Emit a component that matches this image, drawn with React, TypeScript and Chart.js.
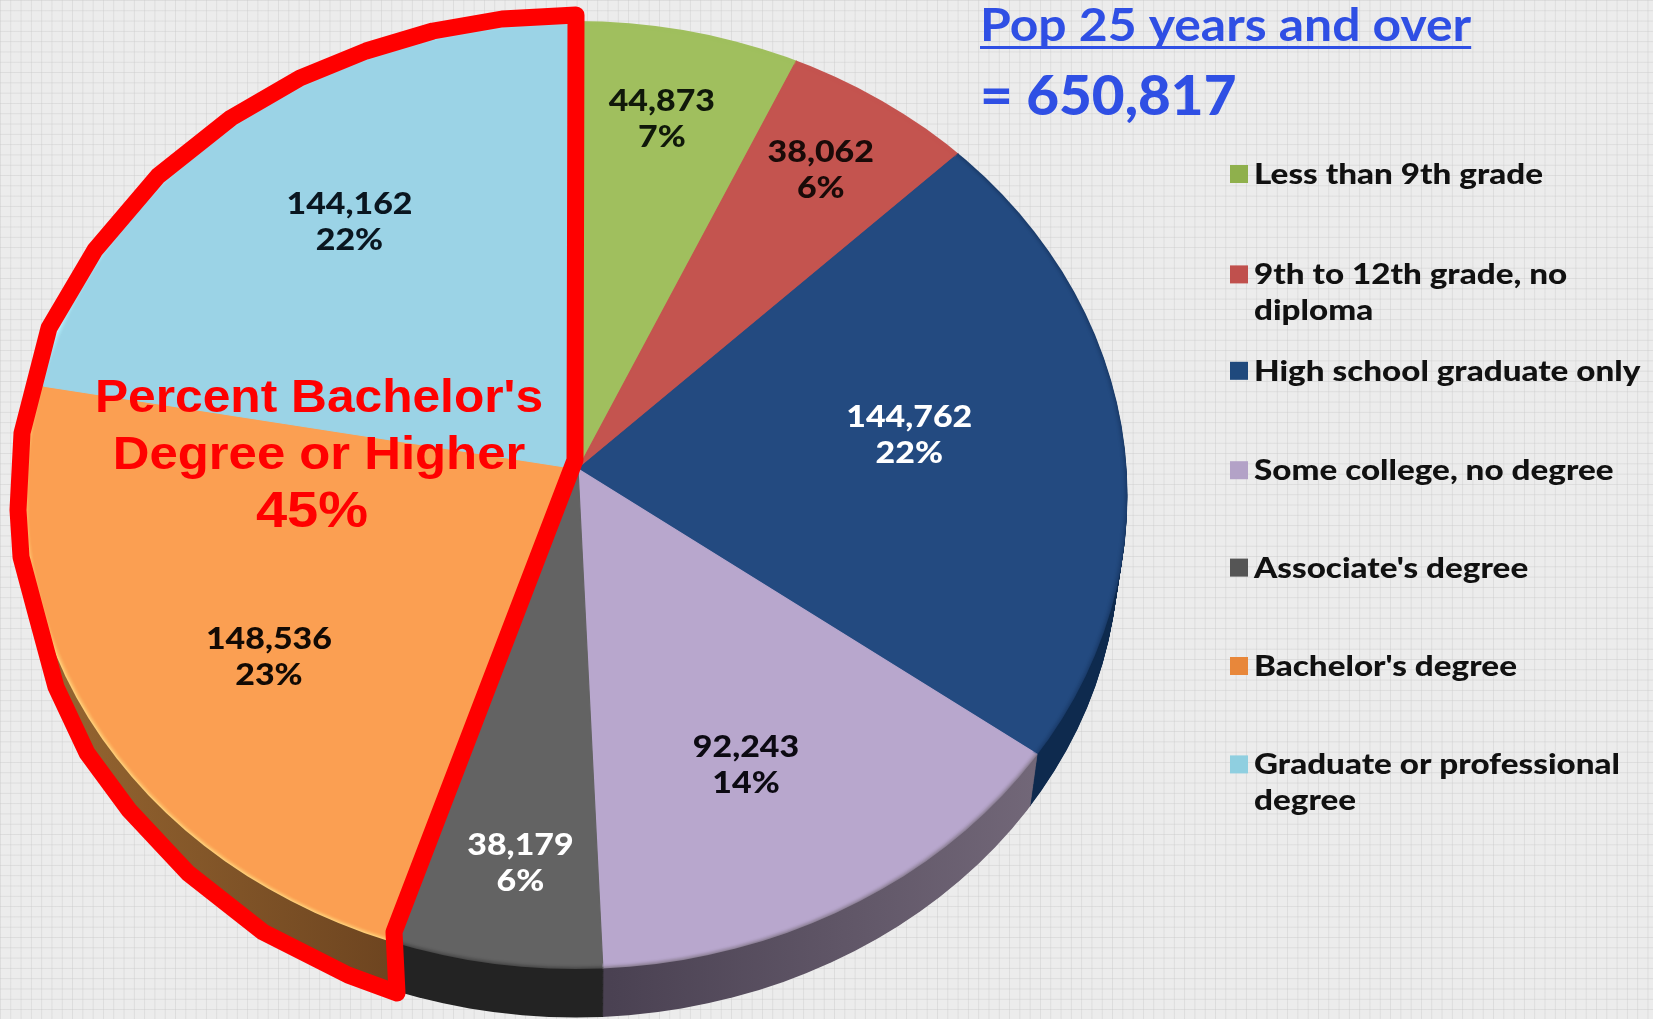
import React, { useEffect, useRef } from "react";
import { Chart, registerables } from "chart.js";

Chart.register(...registerables);

const categories = [
  ["Less than 9th grade"],
  ["9th to 12th grade, no", "diploma"],
  ["High school graduate only"],
  ["Some college, no degree"],
  ["Associate's degree"],
  ["Bachelor's degree"],
  ["Graduate or professional", "degree"],
];
const population = [44873, 38062, 144762, 92243, 38179, 148536, 144162];
const faceColors = ["#a0bf5e", "#c4544f", "#234a80", "#b8a7cd", "#636363", "#fb9f52", "#9bd3e6"];
const rimColors = ["#a0bf5e", "#c4544f", "#1b3d6c", "#8f8399", "#4a4a4a", "#ffcf78", "#b2eefc"];
const sideLeftColors = ["#6b8040", "#7f3633", "#0e2a4e", "#4a4152", "#232323", "#a06e35", "#5e8a9a"];
const sideRightColors = ["#6b8040", "#7f3633", "#0e2a4e", "#766b7c", "#232323", "#6e4520", "#5e8a9a"];
const labelColors = ["#10180a", "#1a0a08", "#ffffff", "#0c0a12", "#ffffff", "#120a04", "#0a1620"];
const labelRadii = [0.795, 0.8, 0.605, 0.665, 0.795, 0.674, 0.69];
const labelNudgesDeg = [-1.4, -2.0, -3.2, 1.3, 0, -3, 3];
// the photographed pie is seen in perspective: each slice edge sits slightly off its true angle
const edgeNudgesDeg = [-1.35, -1.5, -1.5, 0.44, 1.0, 0.55, 0];
const swatchColors = ["#8fb04c", "#c0504d", "#1f497d", "#b3a2c7", "#555555", "#e8873a", "#8fcfe0"];
const legendRowNudges = [0, 2, 0, 1, 0, 0, 0];
const titleLine = "Pop 25 years and over";
const totalLine = "= 650,817";
const noteLines = ["Percent Bachelor's", "Degree or Higher", "45%"];
const outlinePoints = [
  [576, 15], [502, 19], [433, 31], [366, 51], [300, 78], [231, 118], [158, 176], [95, 250],
  [49, 328], [22, 433], [18, 510], [21, 557], [36, 613], [56, 687], [87, 753], [129, 810],
  [188, 873], [263, 932], [348, 975], [397, 993], [394, 932], [575, 460],
];

const APEX_X = 578;
const APEX_Y = 469;
const RX = 552;
const RY_TOP = 448;
const RY_BOTTOM = 500;
const EDGE_X = 575.5;
const EDGE_Y = 495;
const EDGE_RX = 552;
const EDGE_RY = 474;
const DEPTH = 56;

const rad = (d: number) => (d * Math.PI) / 180;

const put = (ctx: any, text: string, x: number, y: number, sx: number) => {
  ctx.save();
  ctx.translate(x, y);
  ctx.scale(sx, 1);
  ctx.fillText(text, 0, 0);
  ctx.restore();
};

const piePlugin = {
  id: "tiltedPie",
  beforeDatasetsDraw(chart: any) {
    const ctx = chart.ctx;
    const meta = chart.getDatasetMeta(0);
    const first = meta.data[0];
    const cx = first.x;
    const cy = first.y;
    const r = first.outerRadius;
    const n = meta.data.length;
    const sideFills = meta.data.map((arc: any, i: number) => {
      let lo = Infinity;
      let hi = -Infinity;
      for (let k = 0; k <= 40; k += 1) {
        const a = arc.startAngle + ((arc.endAngle - arc.startAngle) * k) / 40;
        const x = cx + r * Math.cos(a);
        lo = Math.min(lo, x);
        hi = Math.max(hi, x);
      }
      const g = ctx.createLinearGradient(lo, 0, hi, 0);
      g.addColorStop(0, sideLeftColors[i]);
      g.addColorStop(1, sideRightColors[i]);
      return g;
    });
    const band = (top: boolean, dy: number, scale: number, colors: any[]) => {
      ctx.save();
      ctx.beginPath();
      ctx.ellipse(EDGE_X, EDGE_Y + dy, EDGE_RX * scale, EDGE_RY * scale, 0, 0, Math.PI * 2);
      ctx.clip();
      ctx.beginPath();
      if (top) ctx.rect(0, 0, chart.width, APEX_Y + dy);
      else ctx.rect(0, APEX_Y + dy, chart.width, chart.height);
      ctx.clip();
      ctx.translate(APEX_X, APEX_Y + dy);
      ctx.scale((RX / r) * 1.12, ((top ? RY_TOP : RY_BOTTOM) / r) * 1.12);
      ctx.translate(-cx, -cy);
      meta.data.forEach((arc: any, i: number) => {
        const saved = arc.options;
        const s = arc.startAngle;
        const e = arc.endAngle;
        arc.options = { ...saved, backgroundColor: colors[i], borderColor: colors[i], borderWidth: 1 };
        arc.startAngle = s + rad(edgeNudgesDeg[(i + n - 1) % n]);
        arc.endAngle = e + rad(edgeNudgesDeg[i]);
        arc.draw(ctx);
        arc.options = saved;
        arc.startAngle = s;
        arc.endAngle = e;
      });
      ctx.restore();
    };
    for (let d = DEPTH; d >= 1; d -= 1) {
      const t = d / DEPTH;
      band(false, d, 1 - 0.016 * t, sideFills);
      band(true, d, 1 - 0.016 * t, sideFills);
    }
    band(false, 0, 1, rimColors);
    band(true, 0, 1, rimColors);
    ctx.save();
    ctx.filter = "blur(0.7px)";
    [[0.998, 0.3], [0.996, 0.4], [0.994, 0.5], [0.992, 0.7], [0.99, 1]].forEach(([s, a]) => {
      ctx.globalAlpha = a;
      band(false, 0, s, faceColors);
      band(true, 0, s, faceColors);
    });
    ctx.restore();
    return false;
  },
  afterDraw(chart: any) {
    const ctx = chart.ctx;
    const meta = chart.getDatasetMeta(0);
    const total = population.reduce((a, b) => a + b, 0);
    ctx.save();
    ctx.textBaseline = "alphabetic";

    // data labels
    ctx.textAlign = "center";
    ctx.font = "900 30px Lato";
    meta.data.forEach((arc: any, i: number) => {
      const mid = (arc.startAngle + arc.endAngle) / 2 + rad(labelNudgesDeg[i]);
      const nx = Math.cos(mid) * labelRadii[i];
      const ny = Math.sin(mid) * labelRadii[i];
      const x = APEX_X + nx * RX;
      const y = APEX_Y + ny * (ny < 0 ? RY_TOP : RY_BOTTOM);
      ctx.fillStyle = labelColors[i];
      put(ctx, population[i].toLocaleString("en-US"), x, y - 8, 1.13);
      put(ctx, `${Math.round((population[i] / total) * 100)}%`, x, y + 28, 1.13);
    });

    // outline
    ctx.strokeStyle = "#ff0000";
    ctx.lineWidth = 17;
    ctx.lineJoin = "round";
    ctx.beginPath();
    outlinePoints.forEach(([x, y], i) => (i ? ctx.lineTo(x, y) : ctx.moveTo(x, y)));
    ctx.closePath();
    ctx.stroke();

    // note
    ctx.fillStyle = "#ff0000";
    ctx.font = "bold 46px 'Liberation Sans'";
    put(ctx, noteLines[0], 319, 412, 1.08);
    put(ctx, noteLines[1], 319, 469, 1.105);
    ctx.font = "bold 50px 'Liberation Sans'";
    put(ctx, noteLines[2], 312, 527, 1.12);

    // title
    ctx.textAlign = "left";
    ctx.fillStyle = "#2f4fe4";
    ctx.font = "bold 46px Lato";
    put(ctx, titleLine, 980, 41, 1.084);
    const w = ctx.measureText(titleLine).width * 1.084;
    ctx.fillRect(980, 46, w, 3);
    ctx.font = "900 56px Lato";
    put(ctx, totalLine, 980, 115, 1.01);

    // legend
    ctx.font = "900 29px Lato";
    categories.forEach((lines, i) => {
      const y = 174 + i * 98.4 + legendRowNudges[i];
      ctx.fillStyle = swatchColors[i];
      ctx.fillRect(1230, y - 9, 18, 18);
      ctx.fillStyle = "#111111";
      lines.forEach((line, j) => put(ctx, line, 1254, y + 10 + j * 36, 1.145));
    });
    ctx.restore();
  },
};

export default function App() {
  const ref = useRef<HTMLCanvasElement | null>(null);
  useEffect(() => {
    document.body.style.margin = "0";
    const chart = new Chart(ref.current as HTMLCanvasElement, {
      type: "pie",
      data: {
        labels: categories.map((c) => c.join(" ")),
        datasets: [{ data: population, backgroundColor: faceColors, borderWidth: 0 }],
      },
      options: {
        responsive: false,
        animation: false,
        events: [],
        plugins: { legend: { display: false }, tooltip: { enabled: false } },
      },
      plugins: [piePlugin],
    } as any);
    return () => chart.destroy();
  }, []);
  const line = "rgba(205,205,205,0.5)";
  return (
    <div
      style={{
        width: 1653,
        height: 1019,
        overflow: "hidden",
        backgroundColor: "#ececec",
        backgroundImage: `linear-gradient(${line} 1px, transparent 1px), linear-gradient(90deg, ${line} 1px, transparent 1px)`,
        backgroundSize: "10.3px 10.3px",
      }}
    >
      <canvas ref={ref} width={1653} height={1019} style={{ display: "block" }} />
    </div>
  );
}
